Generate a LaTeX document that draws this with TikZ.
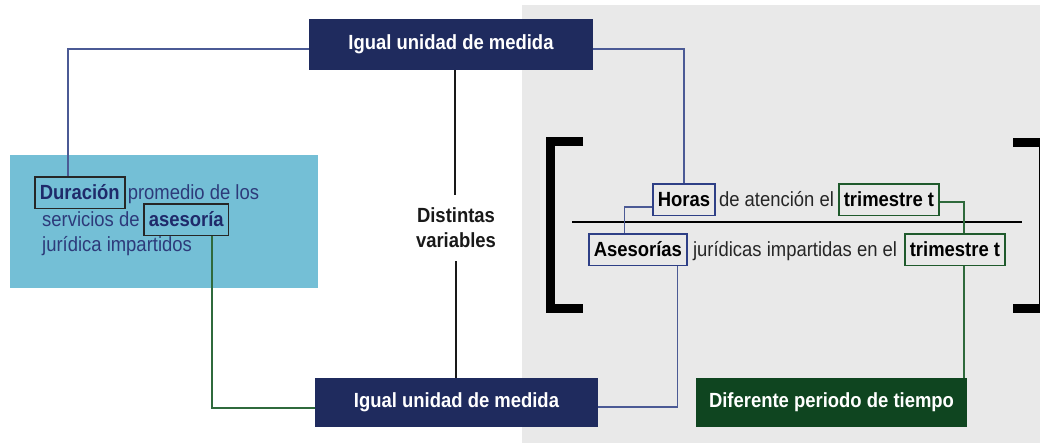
\documentclass[tikz,border=0pt]{standalone}
\usepackage{fontspec}
\setmainfont{Liberation Sans}[FakeStretch=0.9]
\usetikzlibrary{calc}
\definecolor{navy}{HTML}{1F2B5E}
\definecolor{dgreen}{HTML}{0F4520}
\definecolor{lblue}{HTML}{74BFD6}
\definecolor{bggrey}{HTML}{E9E9E9}
\definecolor{blueline}{HTML}{4B5A95}
\definecolor{greenline}{HTML}{2F6A3C}
\definecolor{bluetext}{HTML}{2D3A7A}
\definecolor{boldnavy}{HTML}{1F2A6A}
\definecolor{framblue}{HTML}{2E3F86}
\definecolor{framgreen}{HTML}{1F5A2C}
\tikzset{
  fnt/.style={font=\fontsize{20.5}{25}\selectfont},
  fntb/.style={font=\fontsize{20.5}{25}\selectfont\bfseries},
  navybox/.style={fill=navy, text=white, fntb, inner sep=0pt},
  greenbox/.style={fill=dgreen, text=white, fntb, inner sep=0pt},
  wordbox/.style={draw, line width=1.6pt, fntb, inner xsep=5pt, inner ysep=8.5pt, text height=14.5pt, text depth=0pt, anchor=base west},
  plain/.style={fnt, inner sep=0pt, anchor=base west},
  conn/.style={line width=1.8pt},
  bracket/.style={line width=9pt, line join=miter, line cap=butt}
}
\begin{document}
\begin{tikzpicture}[x=1pt,y=-1pt]
\useasboundingbox (0,0) rectangle (1040,443);
\fill[bggrey] (522,5) rectangle (1040,443);
\fill[lblue] (10,155) rectangle (318,288);

% brackets
\draw[bracket] (583,141.5) -- (550,141.5) -- (550,308.5) -- (583,308.5);
\draw[bracket] (1013,142.5) -- (1043,142.5) -- (1043,308) -- (1013,308);

% fraction line
\coordinate (fl) at (572,222);
\coordinate (fr) at (1022,222);
\draw[line width=1.5pt] (fl) -- (fr);

% top / bottom boxes
\node[navybox, minimum width=284pt, minimum height=51pt] (top) at (451,44.5) {Igual unidad de medida};
\node[navybox, minimum width=283pt, minimum height=49pt] (bot) at (456.5,402.5) {Igual unidad de medida};
\node[greenbox, minimum width=271pt, minimum height=49pt] (diff) at (831.5,402.5) {Diferente periodo de tiempo};

% middle label
\node[fntb, align=center, inner xsep=0pt, inner ysep=13pt, text=black!90] (dist) at (456,228) {Distintas\\variables};

% blue box text
\node[wordbox, draw=black!85, text=boldnavy] (dur) at (34,200) {Duración};
\node[plain, text=bluetext] (l1) at ([xshift=2pt]dur.base east) {promedio de los};
\node[plain, text=bluetext] (l2) at (42,227) {servicios de};
\node[wordbox, draw=black!85, text=boldnavy] (ases) at (143,227) {asesoría};
\node[plain, text=bluetext] (l3) at (42,252) {jurídica impartidos};

% fraction text
\node[wordbox, draw=framblue, text=black] (horas) at (652,207) {Horas};
\node[plain, text=black!85] (m1) at ([xshift=3pt]horas.base east) {de atención el};
\node[wordbox, draw=framgreen, text=black] (tri1) at (838,207) {trimestre t};
\node[wordbox, draw=framblue, text=black] (asis) at (588,257) {Asesorías};
\node[plain, text=black!85] (m2) at ([xshift=5pt]asis.base east) {jurídicas impartidas en el};
\node[wordbox, draw=framgreen, text=black] (tri2) at (904,257) {trimestre t};

% connectors
\draw[conn, blueline] ([yshift=-4.5pt]top.west) -| ([xshift=-12pt]dur.north);
\draw[conn, greenline] ([xshift=25.5pt]ases.south) |- ([yshift=-5.5pt]bot.west);
\draw[conn, blueline] ([yshift=-4.5pt]top.east) -| (horas.north);
\draw[conn, blueline] ([yshift=-7pt]horas.west) -| ([xshift=-13.5pt]asis.north);
\draw[conn, blueline] ([xshift=39.5pt]asis.south) |- ([yshift=-4.5pt]bot.east);
\draw[conn, greenline] ([yshift=-2pt]tri1.east) -| ([xshift=9pt]tri2.north);
\draw[conn, greenline] ([xshift=9pt]tri2.south) -- ([xshift=9pt]tri2.south |- diff.north);
\draw[conn, black!90] ([xshift=4pt]top.south) -- ([xshift=4pt]top.south |- dist.north);
\draw[conn, black!90] (dist.south) -- (dist.south |- bot.north);
\end{tikzpicture}
\end{document}
